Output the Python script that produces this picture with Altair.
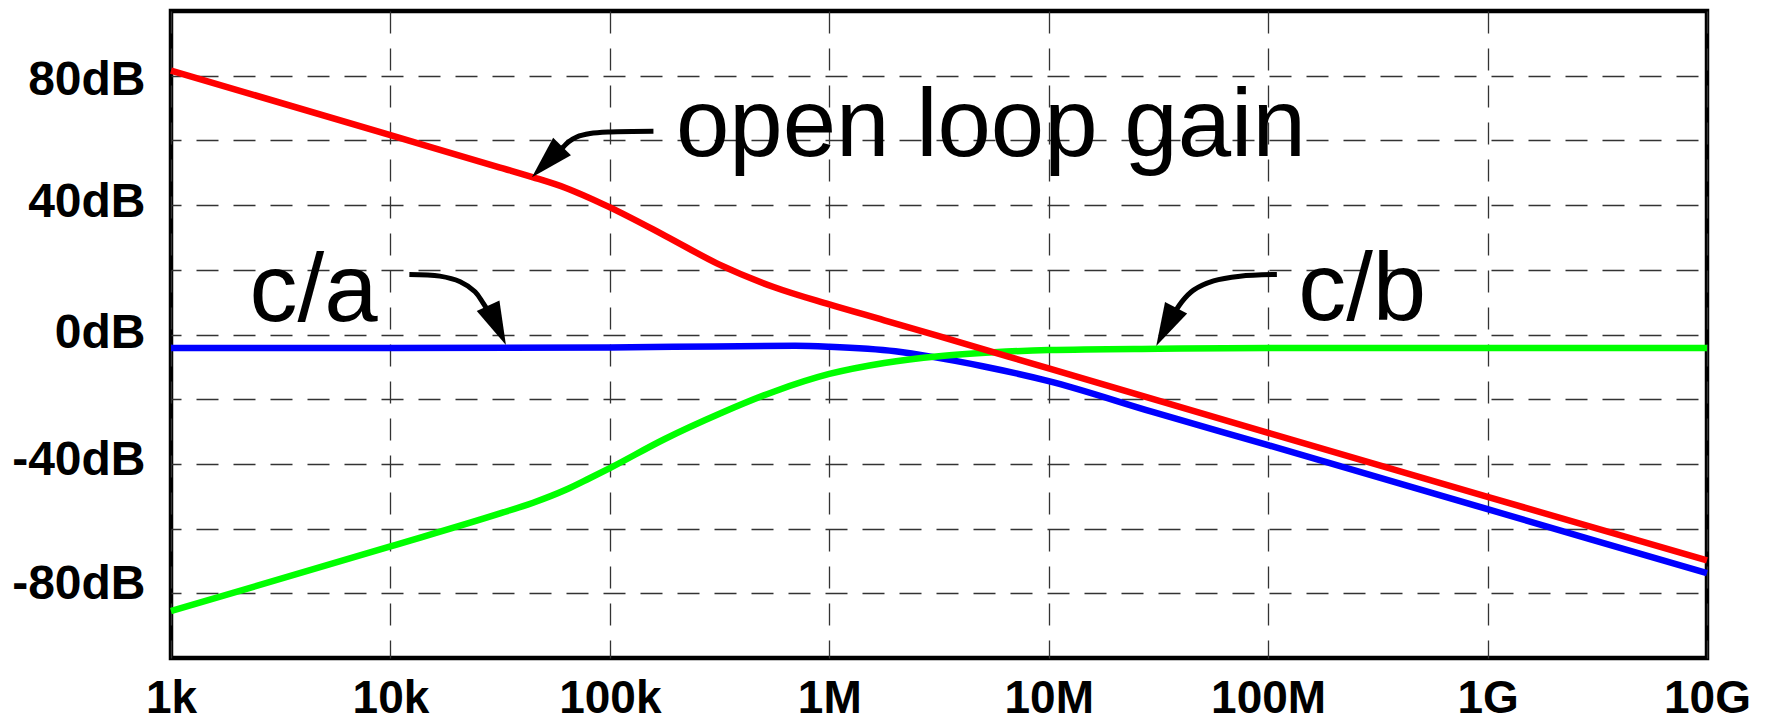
import altair as alt
import pandas as pd

# ---------------- data ----------------
# open loop gain (red)
ol_freq = [1e3, 1e4, 3.16e4, 4.47e4, 6.3e4, 1e5, 1.78e5, 3.16e5, 5.62e5, 1e6, 1.78e6, 3.16e6, 1e7, 1e8, 1e9, 1e10]
ol_db = [81.6, 61.6, 51.6, 48.6, 45.3, 39.3, 30.6, 21.6, 14.6, 9.3, 4.4, -0.5, -10.5, -30.4, -50.2, -69.8]

# c/a (blue)
ca_freq = [1e3, 1e4, 1e5, 3e5, 7e5, 1e6, 2e6, 3e6, 5e6, 1e7, 3e7, 1e8, 1e9, 1e10]
ca_db = [-4.2, -4.2, -4.0, -3.7, -3.5, -3.8, -5.2, -7.0, -9.8, -14.4, -24.0, -34.2, -54.0, -73.8]

# c/b (green)
cb_freq = [1e3, 1e4, 3.16e4, 4.47e4, 6.3e4, 8e4, 1e5, 1.78e5, 3.16e5, 5.62e5, 1e6, 1.78e6, 3.16e6, 5.62e6, 1e7, 3.16e7, 1e8, 1e10]
cb_db = [-85.5, -65.5, -55.3, -52.0, -48.0, -44.6, -41.3, -32.3, -24.5, -17.6, -12.2, -8.8, -6.7, -5.5, -4.8, -4.4, -4.2, -4.2]

# tick values and labels
x_tick_values = [1e3, 1e4, 1e5, 1e6, 1e7, 1e8, 1e9, 1e10]
x_tick_labels = ["1k", "10k", "100k", "1M", "10M", "100M", "1G", "10G"]
y_tick_values = [-80, -60, -40, -20, 0, 20, 40, 60, 80]

# annotation texts
note_text = ["open loop gain", "c/a", "c/b"]
note_freq = [2.0e5, 2.28e3, 1.37e8]
note_db = [55.1, 4.1, 4.5]

# annotation arrows (curved shafts)
arrow1_freq = [158e3, 100.2e3, 81.3e3, 70.6e3, 64.7e3, 61.4e3, 51.7e3]
arrow1_db = [62.84, 62.62, 62.13, 61.07, 59.53, 57.99, 53.34]
arrow2_freq = [12.2e3, 16.8e3, 20.8e3, 24.3e3, 26.5e3, 30.6e3]
arrow2_db = [18.57, 18.04, 16.28, 13.19, 9.61, 2.83]
arrow3_freq = [109.6e6, 74.5e6, 56.4e6, 45.7e6, 40.4e6, 34.3e6]
arrow3_db = [18.57, 18.04, 16.59, 13.72, 10.10, 2.36]

# arrow heads
head_freq = [51.7e3, 30.6e3, 34.3e6]
head_db = [53.34, 2.83, 2.36]
head_angle = [224.5, 155.5, 207.5]

# ---------------- styling ----------------
FONT = "Liberation Sans"
Y_LABEL_SHIFT = {80: 5, 40: -2.5, 0: -1, -40: -3.5, -80: -9}

# ---------------- tables ----------------
def series(freq, db, name):
    return pd.DataFrame({"f": freq, "db": db, "s": name})

curves = pd.concat([
    series(ca_freq, ca_db, "c/a"),
    series(cb_freq, cb_db, "c/b"),
    series(ol_freq, ol_db, "open loop gain"),
])

arrows = pd.concat([
    pd.DataFrame({"f": arrow1_freq, "db": arrow1_db, "a": "a1", "i": range(len(arrow1_freq))}),
    pd.DataFrame({"f": arrow2_freq, "db": arrow2_db, "a": "a2", "i": range(len(arrow2_freq))}),
    pd.DataFrame({"f": arrow3_freq, "db": arrow3_db, "a": "a3", "i": range(len(arrow3_freq))}),
])

heads = pd.DataFrame({"f": head_freq, "db": head_db, "ang": head_angle})
notes = pd.DataFrame({"f": note_freq, "db": note_db, "t": note_text})

label_list = "[" + ",".join(f"'{l}'" for l in x_tick_labels) + "]"


def build(use_offsets):
    x_enc = alt.X(
        "f:Q",
        scale=alt.Scale(type="log", domain=[1e3, 1e10]),
        axis=alt.Axis(
            values=x_tick_values,
            labelExpr=f"{label_list}[round(log(datum.value)/LN10) - 3]",
            title=None,
            grid=True,
            gridDash=[22, 15],
            gridColor="#333333",
            gridWidth=1.3,
            domain=False,
            ticks=False,
            tickSize=0,
            labelFlush=False,
            labelOverlap=False,
            labelBound=False,
            labelFont=FONT,
            labelFontSize=46,
            labelFontWeight="bold",
            labelColor="black",
            labelPadding=18,
        ),
    )

    y_axis_kw = dict(
        values=y_tick_values,
        labelExpr="datum.value % 40 === 0 ? datum.value + 'dB' : ''",
        title=None,
        grid=True,
        gridDash=[22, 15],
        gridDashOffset=12,
        gridColor="#333333",
        gridWidth=1.3,
        domain=False,
        ticks=False,
        tickSize=0,
        labelOverlap=False,
        labelBound=False,
        labelFont=FONT,
        labelFontSize=48,
        labelFontWeight="bold",
        labelColor="black",
        labelPadding=26,
        labelBaseline="middle",
    )
    if use_offsets:
        y_axis_kw["labelOffset"] = {
            "condition": [{"test": f"datum.value == {k}", "value": v} for k, v in Y_LABEL_SHIFT.items()],
            "value": 0,
        }

    y_enc = alt.Y(
        "db:Q",
        scale=alt.Scale(domain=[-100, 100], nice=False, zero=False),
        axis=alt.Axis(**y_axis_kw),
    )

    lines = alt.Chart(curves).mark_line(strokeWidth=6.5, interpolate="monotone").encode(
        x=x_enc,
        y=y_enc,
        color=alt.Color(
            "s:N",
            scale=alt.Scale(domain=["c/a", "c/b", "open loop gain"], range=["#0000ff", "#00ff00", "#ff0000"]),
            legend=None,
        ),
        detail="s:N",
    )

    shafts = alt.Chart(arrows).mark_line(strokeWidth=5, color="black", interpolate="catmull-rom").encode(
        x="f:Q", y="db:Q", detail="a:N", order="i:Q"
    )

    tips = alt.Chart(heads).mark_point(
        shape="M0,-1L0.58,1L-0.58,1Z", filled=True, color="black", opacity=1, size=1849, strokeWidth=0
    ).encode(x="f:Q", y="db:Q", angle=alt.Angle("ang:Q", scale=None))

    texts = alt.Chart(notes).mark_text(
        align="left", baseline="alphabetic", font=FONT, fontSize=96, color="black"
    ).encode(x="f:Q", y="db:Q", text="t:N")

    return alt.layer(lines, shafts, tips, texts).properties(
        width=1536,
        height=647,
        autosize=alt.AutoSizeParams(type="none"),
        padding={"left": 163, "top": 3, "right": 52, "bottom": 63},
        background="white",
    ).configure_view(stroke="black", strokeWidth=4.5)


try:
    chart = build(True)
    chart.to_dict()
except Exception:
    chart = build(False)

chart.save("out.html", embed_options={"renderer": "svg", "actions": False})
